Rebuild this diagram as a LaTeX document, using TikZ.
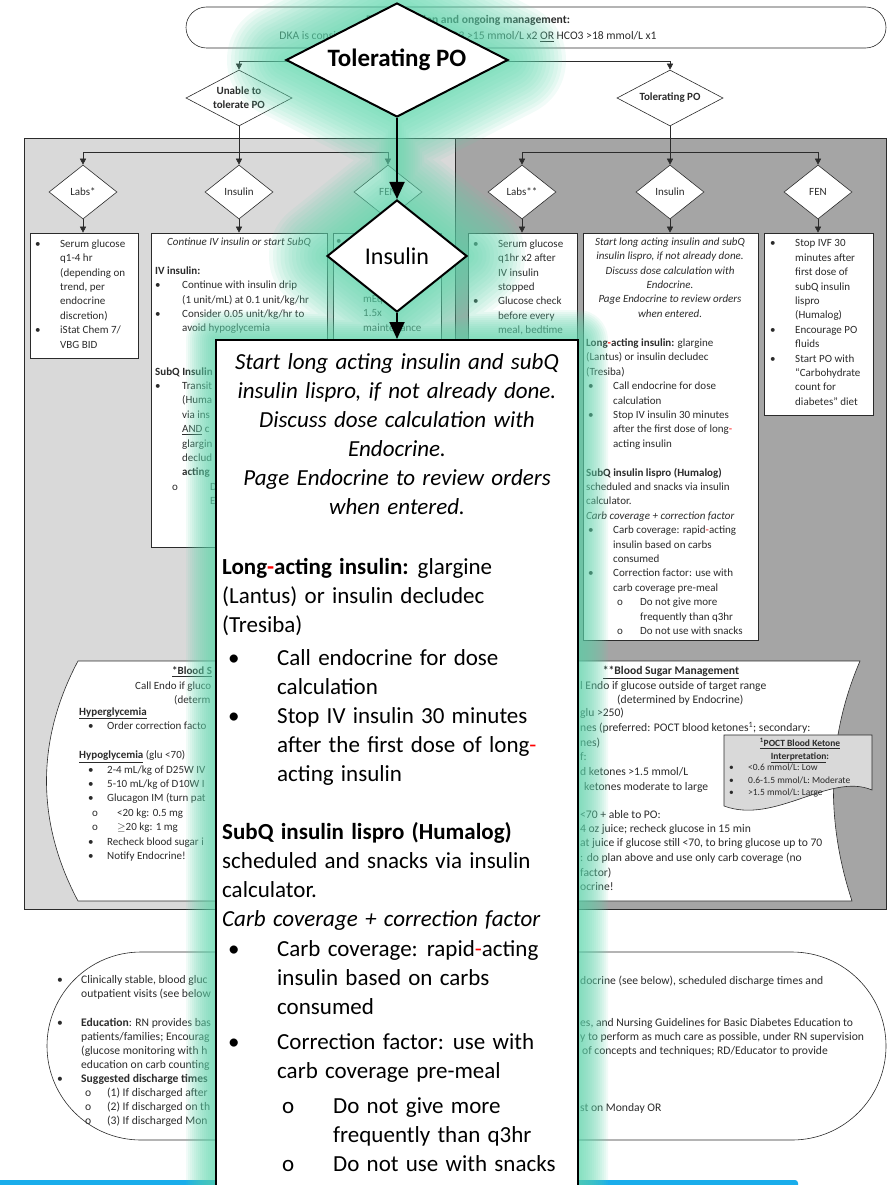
\documentclass[tikz,border=0pt]{standalone}
\usepackage{fontspec}
\setmainfont{Carlito}
\newfontfamily\zoomfont{Carlito}[WordSpace=1.4]
\usepackage{xcolor}
\usepackage{tikz}
\usetikzlibrary{arrows.meta,shapes.geometric,positioning}

\definecolor{ink}{HTML}{2B2B2B}
\definecolor{panelL}{HTML}{D9D9D9}
\definecolor{panelR}{HTML}{A5A5A5}
\definecolor{mint}{HTML}{5ED6AC}
\definecolor{skyline}{HTML}{1AADEB}

\newcommand{\smallf}{\fontsize{11}{14.4}\selectfont}
\newcommand{\docf}{\fontsize{11.6}{14.4}\selectfont}
\newcommand{\bu}[1][25pt]{\makebox[#1][l]{\textbullet}}
\newcommand{\ob}[1][23pt]{\makebox[#1][l]{o}}
\newcommand{\ind}[1][25pt]{\hspace*{#1}}
\newcommand{\rh}{\textcolor{red}{-}}
% one soft ring of the highlight round the zoomed-in parts
\newcommand{\glowring}[3]{%
  \begin{scope}[transparency group, opacity=0.085]
    \filldraw[mint, line width=#1pt, line join=round] (397,3) -- (508,60) -- (397,117) -- (285,60) -- cycle;
    \filldraw[mint, line width=#1pt, line join=round] (397,200) -- (467,256) -- (397,312) -- (327,256) -- cycle;
    \draw[mint, line width=#2pt] (397,117) -- (397,340);
    \filldraw[mint, line width=#3pt, line join=round] (216,340) rectangle (578,1200);
  \end{scope}}

\begin{document}
\begin{tikzpicture}[x=1pt, y=-1pt,
    every node/.style={inner sep=0pt, text=ink},
    smalltxt/.style={font=\smallf, align=left, anchor=north west},
    bigtxt/.style={font=\zoomfont\fontsize{23}{29}\selectfont, align=left, anchor=north west, text=black},
    decide/.style={diamond, draw=ink, fill=white, line width=0.6pt, aspect=1.25,
        minimum width=68pt, minimum height=54pt, font=\smallf},
    topdecide/.style={decide, aspect=2, align=center, minimum width=106pt, minimum height=56pt,
        font=\fontsize{11}{14}\selectfont\bfseries},
    infobox/.style={rectangle, draw=ink, fill=white, line width=0.6pt},
    conn/.style={draw=ink, line width=0.5pt, -{Triangle[length=6pt, width=6pt]}},
    bigconn/.style={draw=black, line width=1.8pt, -{Triangle[length=17pt, width=15pt]}}]

\useasboundingbox (0,0) rectangle (894,1185);
\clip (0,0) rectangle (894,1185);

% Start of the pathway
\node[infobox, rounded corners=20.5pt, minimum width=700pt, minimum height=41pt] (start) at (536,27.5) {};
\node[align=center, font=\fontsize{11.6}{16}\selectfont] (startTxt) at (468,28.5)
    {\textbf{DKA resolution and ongoing management:}\\
     DKA is considered resolved when HCO3 >15 mmol/L x2 \underline{OR} HCO3 >18 mmol/L x1};

% Two panels
\draw[fill=panelL, draw=ink, line width=0.6pt] (24,138) rectangle (455,909);
\draw[fill=panelR, draw=ink, line width=0.6pt] (455,138) rectangle (886,909);

% First split
\node[topdecide] (unable) at (239,98) {Unable to\\tolerate PO};
\node[topdecide] (tolerate) at (670,98) {Tolerating PO};
\coordinate (split0) at (398,61);
\draw[ink, line width=0.5pt] (start.south -| split0) -- (split0);
\draw[conn] (split0) -| (unable.north);
\draw[conn] (split0) -| (tolerate.north);

% Left panel decisions
\node[decide] (labsA) at (83,192) {Labs*};
\node[decide] (insA) at (239,192) {Insulin};
\node[decide] (fenA) at (388,192) {FEN};
\coordinate (splitA) at (239,152);
\draw[conn] (unable.south) -- (insA.north);
\draw[conn] (splitA) -| (labsA.north);
\draw[conn] (splitA) -| (fenA.north);

% Right panel decisions
\node[decide] (labsB) at (522,192) {Labs**};
\node[decide] (insB) at (670,192) {Insulin};
\node[decide] (fenB) at (818,192) {FEN};
\coordinate (splitB) at (670,152);
\draw[conn] (tolerate.south) -- (insB.north);
\draw[conn] (splitB) -| (labsB.north);
\draw[conn] (splitB) -| (fenB.north);

% Boxes under the decisions
\node[infobox, minimum width=108pt, minimum height=125pt] (boxLabsA) at (84,295.5) {};
\node[infobox, minimum width=176pt, minimum height=314pt] (boxInsA) at (239,390) {};
\node[infobox, minimum width=108pt, minimum height=314pt] (boxFenA) at (387,390) {};
\node[infobox, minimum width=109pt, minimum height=197pt] (boxLabsB) at (523,331.5) {};
\node[infobox, minimum width=175pt, minimum height=407pt] (boxInsB) at (670.5,436.5) {};
\node[infobox, minimum width=109pt, minimum height=182pt] (boxFenB) at (818.5,324) {};
\draw[conn] (labsA.south) -- (labsA.south |- boxLabsA.north);
\draw[conn] (insA.south) -- (insA.south |- boxInsA.north);
\draw[conn] (fenA.south) -- (fenA.south |- boxFenA.north);
\draw[conn] (labsB.south) -- (labsB.south |- boxLabsB.north);
\draw[conn] (insB.south) -- (insB.south |- boxInsB.north);
\draw[conn] (fenB.south) -- (fenB.south |- boxFenB.north);

% Box texts, left panel
\node[smalltxt] (txtLabsA) at (35,239.5) {\bu Serum glucose\\ \ind q1-4 hr\\ \ind (depending on\\
    \ind trend, per\\ \ind endocrine\\ \ind discretion)\\ \bu iStat Chem 7/\\ \ind VBG BID};
\node[smalltxt, anchor=north, align=center, font=\smallf\itshape] (txtInsA0) at (239,237.5) {Continue IV insulin or start SubQ};
\node[smalltxt] (txtInsA) at (155,266.3) {\textbf{IV insulin:}\\
    \bu[27pt]Continue with insulin drip\\ \ind[27pt](1 unit/mL) at 0.1 unit/kg/hr\\
    \bu[27pt]Consider 0.05 unit/kg/hr to\\ \ind[27pt]avoid hypoglycemia\\[28.8pt]
    \textbf{SubQ Insulin}\\ \bu[27pt]Transit\\ \ind[27pt](Huma\\ \ind[27pt]via ins\\
    \ind[27pt]\underline{AND} c\\ \ind[27pt]glargin\\ \ind[27pt]declud\\ \ind[27pt]\textbf{acting}\\
    \ind[17pt]\ob[38pt]D\\ \ind[55pt]E};
\node[smalltxt] (txtFenA0) at (336,239.5) {\textbullet};
\node[smalltxt] (txtFenA) at (363,295.1) {mEq at 1-\\ 1.5x\\ maintenance};

% Box texts, right panel
\node[smalltxt] (txtLabsB) at (473,239.5) {\bu Serum glucose\\ \ind q1hr x2 after\\ \ind IV insulin\\
    \ind stopped\\ \bu Glucose check\\ \ind before every\\ \ind meal, bedtime};
\node[smalltxt, anchor=north, align=center, font=\smallf\itshape] (txtInsB0) at (670,237.5)
    {Start long acting insulin and subQ\\ insulin lispro, if not already done.\\ Discuss dose calculation with\\
     Endocrine.\\ Page Endocrine to review orders\\ when entered.};
\node[smalltxt] (txtInsB) at (586,338.5) {\textbf{Long\rh acting insulin:} glargine\\
    (Lantus) or insulin decludec\\ (Tresiba)\\
    \ind[2pt]\bu Call endocrine for dose\\ \ind[27pt]calculation\\
    \ind[2pt]\bu Stop IV insulin 30 minutes\\ \ind[27pt]after the first dose of long\rh\\ \ind[27pt]acting insulin\\[14.4pt]
    \textbf{SubQ insulin lispro (Humalog)}\\ scheduled and snacks via insulin\\ calculator.\\
    \textit{Carb coverage + correction factor}\\
    \ind[2pt]\bu Carb coverage: rapid\rh acting\\ \ind[27pt]insulin based on carbs\\ \ind[27pt]consumed\\
    \ind[2pt]\bu Correction factor: use with\\ \ind[27pt]carb coverage pre-meal\\
    \ind[31pt]\ob Do not give more\\ \ind[54pt]frequently than q3hr\\ \ind[31pt]\ob Do not use with snacks};
\node[smalltxt] (txtFenB) at (770,239.5) {\bu Stop IVF 30\\ \ind minutes after\\ \ind first dose of\\
    \ind subQ insulin\\ \ind lispro\\ \ind (Humalog)\\ \bu Encourage PO\\ \ind fluids\\
    \bu Start PO with\\ \ind “Carbohydrate\\ \ind count for\\ \ind diabetes” diet};

% Blood sugar management sheet
\draw[fill=white, draw=ink, line width=0.6pt] (78,661) -- (860,661) .. controls (826,740) and (826,822) .. (852,901)
    -- (78,901) .. controls (36,822) and (36,740) .. (78,661) -- cycle;
\node[font=\smallf\bfseries, anchor=base west] (ldTitle) at (172,674.5) {\underline{*Blood S}};
\node[font=\smallf, anchor=base west] (ldCall) at (135,689.5) {Call Endo if gluco};
\node[font=\smallf, anchor=base west] (ldDet) at (174,703.5) {(determ};
\node[smalltxt] (ldBody) at (79,707.5) {\underline{\textbf{Hyperglycemia}}\\
    \ind[9pt]\bu[19pt]Order correction facto\\[14.4pt]
    \underline{\textbf{Hypoglycemia}} (glu <70)\\
    \ind[9pt]\bu[19pt]2-4 mL/kg of D25W IV\\ \ind[9pt]\bu[19pt]5-10 mL/kg of D10W I\\
    \ind[9pt]\bu[19pt]Glucagon IM (turn pat\\
    \ind[13pt]\ob[25pt]<20 kg: 0.5 mg\\ \ind[13pt]\ob[25pt]\ensuremath{\geq}20 kg: 1 mg\\
    \ind[9pt]\bu[19pt]Recheck blood sugar i\\ \ind[9pt]\bu[19pt]Notify Endocrine!};
\node[font=\docf\bfseries, anchor=base] (rdTitle) at (671,674.5) {\underline{**Blood Sugar Management}};
\node[font=\docf, anchor=base west] (rd1) at (580,689.5) {l Endo if glucose outside of target range};
\node[font=\docf, anchor=base west] (rd2) at (617,703.5) {(determined by Endocrine)};
\node[font=\docf, anchor=base west] (rd3) at (580,716.5) {glu >250)};
\node[font=\docf, anchor=base west] (rd4) at (580,731.5) {nes (preferred: POCT blood ketones\textsuperscript{1}; secondary:};
\node[font=\docf, anchor=base west] (rd5) at (580,746.5) {nes)};
\node[font=\docf, anchor=base west] (rd6) at (580,760.5) {f:};
\node[font=\docf, anchor=base west] (rd7) at (580,775.5) {d ketones >1.5 mmol/L};
\node[font=\docf, anchor=base west] (rd8) at (584,790.5) {ketones moderate to large};
\node[font=\docf, anchor=base west] (rd9) at (580,818.5) {<70 + able to PO:};
\node[font=\docf, anchor=base west] (rd10) at (580,832.5) {4 oz juice; recheck glucose in 15 min};
\node[font=\docf, anchor=base west] (rd11) at (580,846.5) {at juice if glucose still <70, to bring glucose up to 70};
\node[font=\docf, anchor=base west] (rd12) at (580,861.5) {: do plan above and use only carb coverage (no};
\node[font=\docf, anchor=base west] (rd13) at (580,876.5) {factor)};
\node[font=\docf, anchor=base west] (rd14) at (580,890.5) {ocrine!};

% Ketone note
\draw[fill=panelL, draw=ink, line width=0.6pt] (724,735) -- (872,735) -- (872,790)
    .. controls (830,772) and (775,825) .. (724,806) -- cycle;
\node[font=\fontsize{9.5}{12.7}\selectfont\bfseries, align=center, anchor=north] (pocTitle) at (800,738)
    {\underline{\textsuperscript{1}POCT Blood Ketone}\\ \underline{Interpretation}:};
\node[font=\fontsize{9.5}{12.7}\selectfont, align=left, anchor=north west] (pocBody) at (729,763.5)
    {\bu[19pt]<0.6 mmol/L: Low\\ \bu[19pt]0.6-1.5 mmol/L: Moderate\\ \bu[19pt]>1.5 mmol/L: Large};

% Discharge
\node[infobox, rounded corners=94pt, minimum width=839pt, minimum height=188pt] (finish) at (466.5,1046) {};
\node[smalltxt, font=\fontsize{11.6}{14.1}\selectfont] (ftLeft) at (57,975.5)
    {\bu[24pt]Clinically stable, blood gluc\\ \ind[24pt]outpatient visits (see below\\[14.1pt]
     \bu[24pt]\textbf{Education}: RN provides bas\\ \ind[24pt]patients/families; Encourag\\
     \ind[24pt](glucose monitoring with h\\ \ind[24pt]education on carb counting\\
     \bu[24pt]\textbf{Suggested discharge times}\\ \ind[28pt]\ob[22pt](1) If discharged after\\
     \ind[28pt]\ob[22pt](2) If discharged on th\\ \ind[28pt]\ob[22pt](3) If discharged Mon};
\node[font=\docf, anchor=base west] (ft1) at (580,984.5) {docrine (see below), scheduled discharge times and};
\node[font=\docf, anchor=base west] (ft3) at (580,1026.5) {es, and Nursing Guidelines for Basic Diabetes Education to};
\node[font=\docf, anchor=base west] (ft4) at (580,1040.5) {y to perform as much care as possible, under RN supervision};
\node[font=\docf, anchor=base west] (ft5) at (582,1054.5) {of concepts and techniques; RD/Educator to provide};
\node[font=\docf, anchor=base west] (ft9) at (580,1111.5) {st on Monday OR};

% Blue edge at the foot
\fill[skyline, rounded corners=3pt] (-5,1180) rectangle (798,1192);

% Highlight
\glowring{116}{68}{60}
\glowring{108}{63}{56}
\glowring{101}{59}{52}
\glowring{93}{54}{48}
\glowring{85}{50}{44}
\glowring{77}{45}{40}
\glowring{70}{41}{36}
\glowring{62}{36}{32}
\glowring{54}{32}{28}
\glowring{46}{27}{24}
\glowring{39}{23}{20}
\glowring{31}{18}{16}
\glowring{23}{14}{12}
\glowring{15}{9}{8}
\glowring{8}{5}{4}

% Zoomed-in parts
\node[diamond, aspect=2, draw=black, fill=white, line width=2pt, minimum width=222pt, minimum height=114pt,
    font=\fontsize{25}{25}\selectfont\bfseries, text=black] (tolBig) at (397,60) {Tolerating PO};
\node[diamond, aspect=1.25, draw=black, fill=white, line width=2pt, minimum width=140pt, minimum height=112pt,
    font=\fontsize{24}{24}\selectfont, text=black] (insBig) at (397,256) {Insulin};
\node[rectangle, draw=black, fill=white, line width=2pt, minimum width=362pt, minimum height=860pt] (bigBox) at (397,770) {};
\draw[bigconn] (tolBig.south) -- (insBig.north);
\draw[bigconn] (insBig.south) -- (bigBox.north);

\node[bigtxt, anchor=north, align=center, font=\zoomfont\fontsize{23}{29}\selectfont\itshape] (bigItal) at (397,353.5)
    {Start long acting insulin and subQ\\ insulin lispro, if not already done.\\ Discuss dose calculation with\\
     Endocrine.\\ Page Endocrine to review orders\\ when entered.};
\node[bigtxt] (bigBody) at (222,558.5) {\textbf{Long\rh acting insulin:} glargine\\
    (Lantus) or insulin decludec\\ (Tresiba)\\[4pt]
    \ind[6pt]\bu[49pt]Call endocrine for dose\\ \ind[55pt]calculation\\
    \ind[6pt]\bu[49pt]Stop IV insulin 30 minutes\\ \ind[55pt]after the first dose of long\rh\\
    \ind[55pt]acting insulin\\[29pt]
    \textbf{SubQ insulin lispro (Humalog)}\\ scheduled and snacks via insulin\\ calculator.\\
    \textit{Carb coverage + correction factor}\\[1pt]
    \ind[6pt]\bu[49pt]Carb coverage: rapid\rh acting\\ \ind[55pt]insulin based on carbs\\ \ind[55pt]consumed\\[6pt]
    \ind[6pt]\bu[49pt]Correction factor: use with\\ \ind[55pt]carb coverage pre-meal\\[6pt]
    \ind[60pt]\ob[51pt]Do not give more\\ \ind[111pt]frequently than q3hr\\
    \ind[60pt]\ob[51pt]Do not use with snacks};

\end{tikzpicture}
\end{document}
